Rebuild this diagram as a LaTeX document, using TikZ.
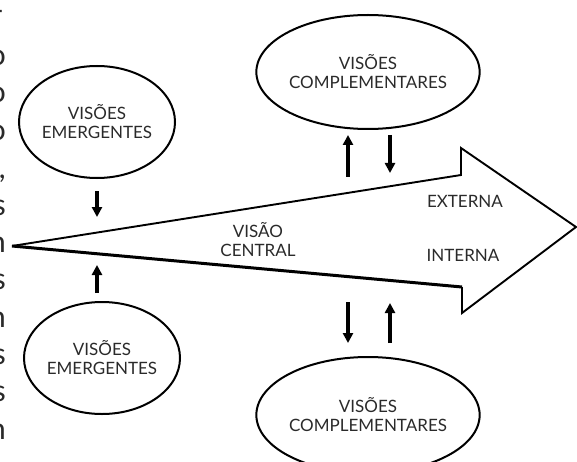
\documentclass[tikz,border=0pt]{standalone}
\usepackage{fontspec}
\setmainfont{Lato}
\usetikzlibrary{shapes.geometric,arrows.meta,positioning}
\definecolor{figtext}{HTML}{2a2a2a}

\begin{document}
\begin{tikzpicture}[x=1pt,y=1pt,
  vision/.style={draw=black, line width=2pt, ellipse, inner sep=0, align=center, font=\fontsize{17}{19}\selectfont, text=figtext},
  lbl/.style={font=\fontsize{17}{19}\selectfont, text=figtext, align=center, inner sep=0},
  flow/.style={line width=3.4pt, -{Triangle[length=10pt,width=10pt]}},
  frag/.style={font=\fontsize{30}{36}\selectfont, text=figtext, anchor=base east, inner sep=0}
]
\useasboundingbox (0,0) rectangle (577,461);
\clip (0,0) rectangle (577,461);

% cut-off text column at the left edge
\node[frag] at (4,440) {-};
\foreach \ch/\yb in {o/395,o/358,o/320,{,}/283,s/246,n/209,s/172,n/134,s/97,s/60,n/22}{
  \node[frag] at (6,\yb) {\ch};
}

% central arrow
\coordinate (tail) at (12,215);
\coordinate (ushoulder) at (461,286);
\coordinate (ubarb) at (461,313);
\coordinate (tip) at (576,234);
\coordinate (lbarb) at (462,148);
\coordinate (lshoulder) at (462,174);
\draw[line width=1.9pt, line join=miter] (tail) -- (ushoulder) -- (ubarb) -- (tip) -- (lbarb) -- (lshoulder);
\draw[line width=3pt] (lshoulder) -- (tail);
\node[lbl] (central) at (258,221) {VISÃO\\CENTRAL};
\node[lbl] (ext) at (465,260) {EXTERNA};
\node[lbl] (int) at (463,206) {INTERNA};

% emergent views
\node[vision, minimum width=156pt, minimum height=112pt] (emTop) at (97,339) {VISÕES\\EMERGENTES};
\node[vision, minimum width=156pt, minimum height=112pt] (emBot) at (102,103) {VISÕES\\EMERGENTES};
\coordinate (inA) at (97,244);
\coordinate (outB) at (97,168);
\coordinate (inB) at (97,196);
\draw[flow, shorten <=12pt] (emTop.south) -- (inA);
\draw[flow] (outB) -- (inB);

% complementary views
\node[vision, minimum width=211pt, minimum height=114pt] (coTop) at (368,389) {VISÕES\\COMPLEMENTARES};
\node[vision, minimum width=211pt, minimum height=116pt] (coBot) at (368,46) {VISÕES\\COMPLEMENTARES};
\coordinate (ct1a) at (348,284);
\coordinate (ct1b) at (348,326);
\coordinate (ct2a) at (390,326);
\coordinate (ct2b) at (390,288);
\coordinate (cb1a) at (348,159);
\coordinate (cb1b) at (348,118);
\coordinate (cb2a) at (390,118);
\coordinate (cb2b) at (390,158);
\draw[flow] (ct1a) -- (ct1b);
\draw[flow] (ct2a) -- (ct2b);
\draw[flow] (cb1a) -- (cb1b);
\draw[flow] (cb2a) -- (cb2b);
\end{tikzpicture}
\end{document}
